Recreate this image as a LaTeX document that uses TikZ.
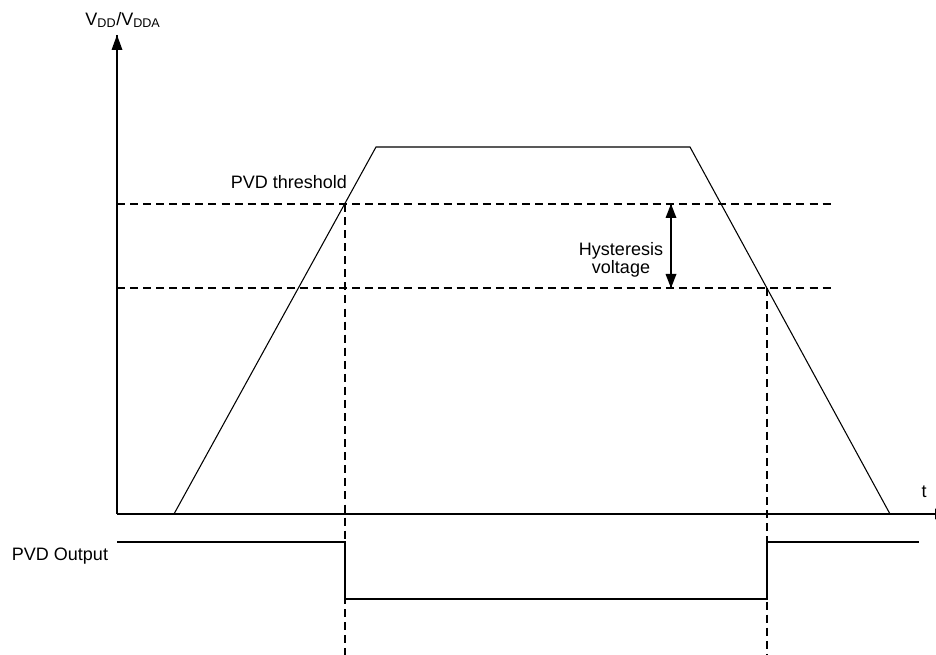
\documentclass[tikz,border=0pt]{standalone}
\usepackage{fontspec}
\setmainfont{Liberation Sans}

\tikzset{every picture/.style={line width=0.75pt}}
\tikzset{
  axisline/.style={line width=1.1pt},
  rampline/.style={line width=0.8pt},
  outline/.style={line width=1.2pt},
  levelline/.style={line width=0.9pt, dash pattern=on 6pt off 3.8pt},
  lbl/.style={font=\fontsize{13.5}{13.4}\selectfont, inner sep=0pt},
}

\begin{document}
\begin{tikzpicture}[x=0.75pt,y=0.75pt,yscale=-1,xscale=1]
\useasboundingbox (0,0) rectangle (936,655);

% points of the axes and of the supply ramp
\coordinate (O) at (117,514);
\coordinate (ytop) at (117,35);
\coordinate (xend) at (950,514);
\coordinate (bot) at (0,655);
\coordinate (r0) at (174,514);
\coordinate (r1) at (376,147);
\coordinate (f1) at (690,147);
\coordinate (f0) at (890,514);
% threshold levels
\coordinate (thL) at (117,204);
\coordinate (thR) at (834,204);
\coordinate (hyL) at (117,288);
\coordinate (hyR) at (834,288);
\coordinate (up) at (345,204);
\coordinate (dn) at (767,288);
\coordinate (ha) at (671,204);
\coordinate (hb) at (671,288);
% output levels
\coordinate (pH) at (117,542);
\coordinate (pL) at (117,599);
\coordinate (pE) at (919,542);

%Straight Lines: axes
\draw [axisline] (O) -- (ytop) ;
\fill [shift={(ytop)}] (0,0) -- (5.5,15) -- (-5.5,15) -- cycle ;
\draw [axisline] (O) -- (xend) ;
\fill [shift={(xend)}] (0,0) -- (-15,5.5) -- (-15,-5.5) -- cycle ;

%Shape: ramp up, hold, ramp down
\draw [rampline] (r0) -- (r1) -- (f1) -- (f0) ;

%Straight Lines: dashed levels
\draw [levelline] (thL) -- (thR) ;
\draw [levelline] (hyL) -- (hyR) ;
\draw [levelline] (up) -- (up |- bot) ;
\draw [levelline] (dn) -- (dn |- bot) ;

%Straight Lines: hysteresis arrow
\draw [rampline] (ha) -- (hb) ;
\fill [shift={(ha)}] (0,0) -- (5.5,14) -- (-5.5,14) -- cycle ;
\fill [shift={(hb)}] (0,0) -- (5.5,-14) -- (-5.5,-14) -- cycle ;

%Straight Lines: PVD output
\draw [outline] (pH) -- (up |- pH) -- (up |- pL) -- (dn |- pL) -- (dn |- pH) -- (pE) ;

% Text Node
\node [lbl] (ylab) at (123,20) {V\textsubscript{DD}/V\textsubscript{DDA}};
% Text Node
\node [lbl] (tlab) at (924,492) {t};
% Text Node
\node [lbl] (thlab) at (289,182) {PVD threshold};
% Text Node
\node [lbl, align=center] (hylab) at (621,260) {Hysteresis\\voltage};
% Text Node
\node [lbl] (outlab) at (60,556) {PVD Output};

\end{tikzpicture}
\end{document}
